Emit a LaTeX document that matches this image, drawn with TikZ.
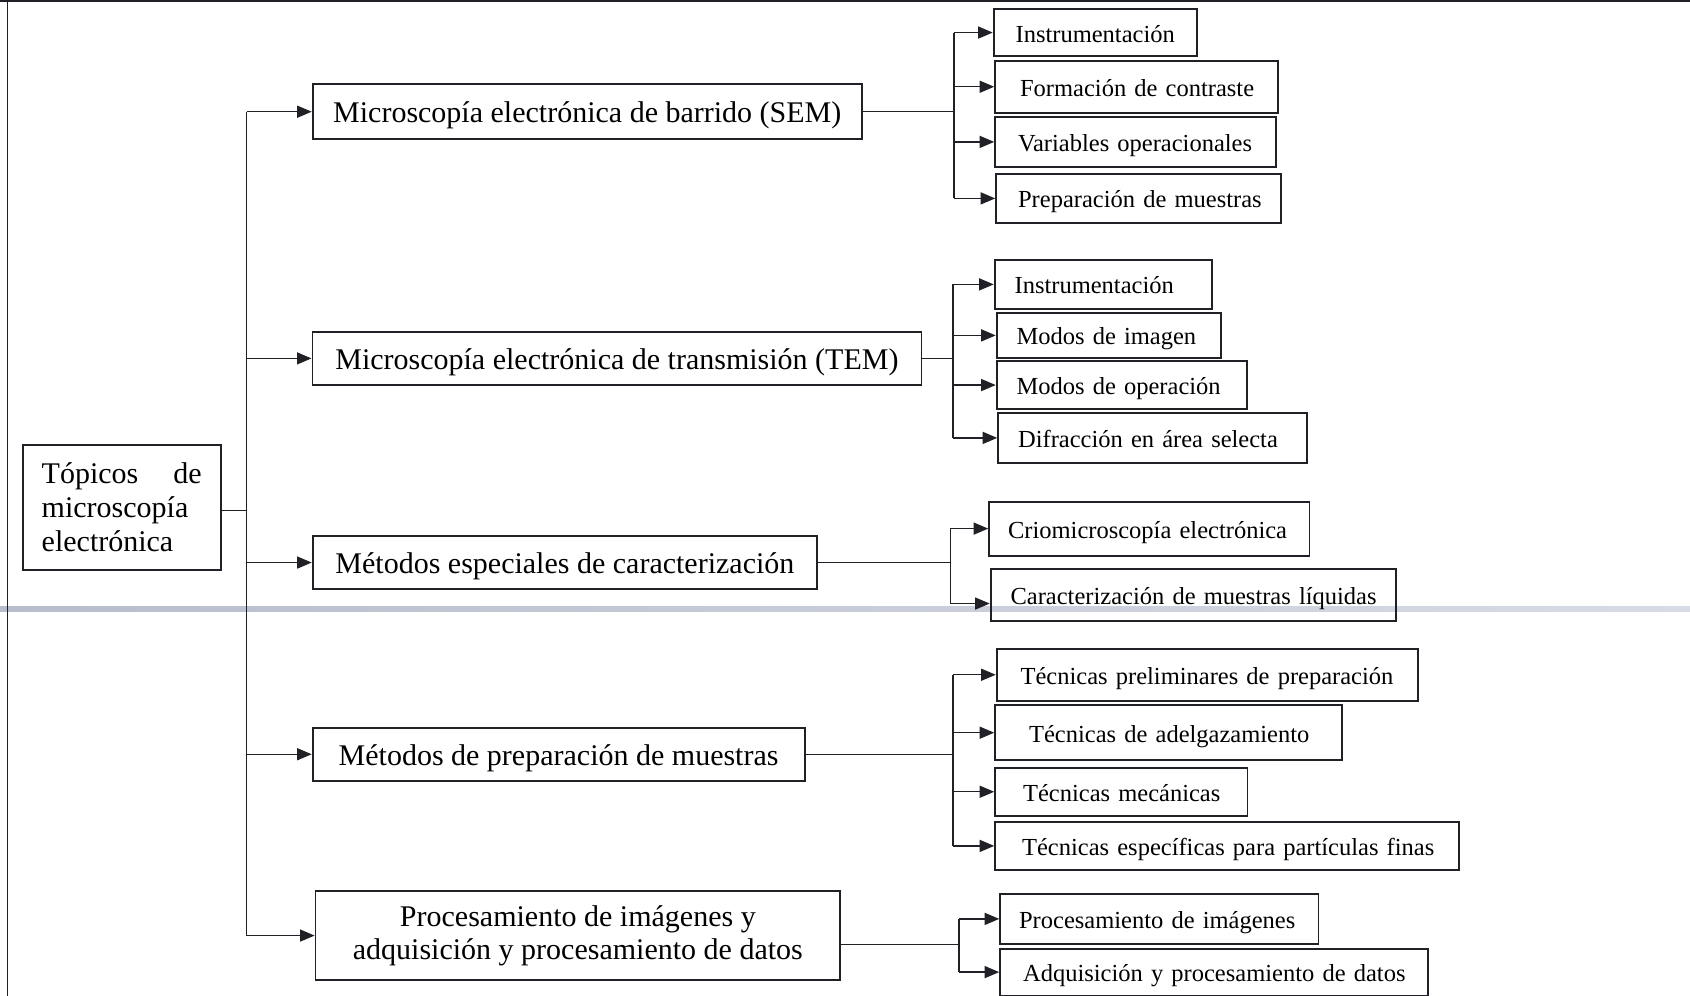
\documentclass[tikz,border=0pt]{standalone}
\usepackage{fontspec}
\setmainfont{Liberation Serif}
\usetikzlibrary{arrows.meta}
\definecolor{ink}{RGB}{32,32,38}
\definecolor{bandL}{RGB}{184,189,204}
\definecolor{bandR}{RGB}{214,219,229}
\begin{document}
\begin{tikzpicture}[x=1pt,y=-1pt,
  every node/.style={inner sep=0pt},
  bx/.style={draw=ink, line width=1.8pt, anchor=north west},
  mainbox/.style 2 args={bx, font=\fontsize{30}{34}\selectfont, align=center,
     minimum width=#1pt, minimum height=#2pt, text height=22pt, text depth=0pt},
  subbox/.style n args={3}{bx, font=\fontsize{24.5}{28}\selectfont, align=left,
     text width=#1pt, inner xsep=#2pt, minimum height=#3pt, text height=19pt, text depth=0pt},
  conn/.style={draw=ink, line width=1.3pt},
  conarr/.style={conn, -{Triangle[length=14.5pt,width=12pt]}}
]
\useasboundingbox (0,0) rectangle (1690,996);
% scan band and frame
\shade[left color=bandL, right color=bandR] (0,606) rectangle (1690,611);
\draw[ink, line width=1.6pt] (0,1.2) -- (1690,1.2);
\draw[ink, line width=1.4pt] (7.5,0) -- (7.5,996);

% root
\node[bx, font=\fontsize{30}{34}\selectfont, align=left, text width=160pt, inner xsep=19pt,
      minimum height=125pt] (root) at (21.8,444) {T\'opicos\hfill de\\microscop\'ia\\electr\'onica};

% main level
\node[mainbox={549.3}{55}] (sem) at (311.7,83.3) {Microscop\'ia electr\'onica de barrido (SEM)};
\node[mainbox={609}{53}] (tem) at (311.5,331) {Microscop\'ia electr\'onica de transmisi\'on (TEM)};
\node[mainbox={504.6}{53.3}] (esp) at (311.7,535) {M\'etodos especiales de caracterizaci\'on};
\node[mainbox={492}{53.3}] (prep) at (311.7,726.7) {M\'etodos de preparaci\'on de muestras};
\node[bx, font=\fontsize{30}{33.5}\selectfont, align=center, minimum width=524.7pt, minimum height=89.3pt]
   (proc) at (314.6,890) {Procesamiento de im\'agenes y\\adquisici\'on y procesamiento de datos};

% SEM children
\node[subbox={159.5}{22}{46.7}] (s1) at (992.7,8.3) {\mbox{Instrumentaci\'on}};
\node[subbox={233.1}{25}{51.7}] (s2) at (994.2,60) {\mbox{Formaci\'on de contraste}};
\node[subbox={234.6}{23}{50}] (s3) at (994.2,116) {\mbox{Variables operacionales}};
\node[subbox={241.2}{22}{48.4}] (s4) at (995.2,173.3) {\mbox{Preparaci\'on de muestras}};
% TEM children
\node[subbox={177.1}{20}{48.4}] (t1) at (993.7,259.3) {\mbox{Instrumentaci\'on}};
\node[subbox={184.2}{20}{45.6}] (t2) at (995.7,311.7) {\mbox{Modos de imagen}};
\node[subbox={210.4}{20}{48.3}] (t3) at (995.7,360) {\mbox{Modos de operaci\'on}};
\node[subbox={268.8}{20}{49.4}] (t4) at (997.2,412.3) {\mbox{Difracci\'on en \'area selecta}};
% especiales children
\node[subbox={282.4}{19}{54}] (e1) at (988.2,500.7) {\mbox{Criomicroscop\'ia electr\'onica}};
\node[subbox={365.5}{20}{51.7}] (e2) at (989.7,568.3) {\mbox{Caracterizaci\'on de muestras l\'iquidas}};
% preparacion children
\node[subbox={373.2}{24}{52.3}] (p1) at (995.7,647.7) {\mbox{T\'ecnicas preliminares de preparaci\'on}};
\node[subbox={278.6}{34}{55}] (p2) at (994.2,704.3) {\mbox{T\'ecnicas de adelgazamiento}};
\node[subbox={196.4}{28}{48.3}] (p3) at (994.2,766.7) {\mbox{T\'ecnicas mec\'anicas}};
\node[subbox={410}{27}{48.6}] (p4) at (994.2,820.7) {\mbox{T\'ecnicas espec\'ificas para part\'iculas finas}};
% procesamiento children
\node[subbox={280.4}{19}{49.4}] (r1) at (999.2,893.3) {\mbox{Procesamiento de im\'agenes}};
\node[subbox={382}{23}{47}] (r2) at (999.2,947.7) {\mbox{Adquisici\'on y procesamiento de datos}};

% trunk
\coordinate (trunk) at (246.8,510);
\coordinate (rootout) at ([yshift=-3pt]root.east);
\draw[conn] (rootout) -- (rootout -| trunk);
\draw[conn] (trunk |- sem.west) -- (trunk |- proc.west);
\foreach \m in {sem,tem,esp,prep,proc} \draw[conarr] (trunk |- \m.west) -- (\m.west);

% SEM branch
\coordinate (js) at (953.9,0);
\draw[conn] (sem.east) -- (sem.east -| js);
\draw[conn] (js |- s1.west) -- (js |- s4.west);
\foreach \c in {s1,s2,s3,s4} \draw[conarr] (js |- \c.west) -- (\c.west);

% TEM branch
\coordinate (jt) at (952.9,0);
\draw[conn] (tem.east) -- (tem.east -| jt);
\draw[conn] (jt |- t1.west) -- (jt |- t4.west);
\foreach \c in {t1,t2,t3,t4} \draw[conarr] (jt |- \c.west) -- (\c.west);

% especiales branch
\coordinate (je) at (950.4,0);
\coordinate (e2in) at ([yshift=-8.5pt]e2.west);
\draw[conn] (esp.east) -- (esp.east -| je);
\draw[conn] (je |- e1.west) -- (je |- e2in);
\draw[conarr] (je |- e1.west) -- (e1.west);
\draw[conarr] (je |- e2in) -- (e2in);

% preparacion branch
\coordinate (jp) at (952.9,0);
\draw[conn] (prep.east) -- (prep.east -| jp);
\draw[conn] (jp |- p1.west) -- (jp |- p4.west);
\foreach \c in {p1,p2,p3,p4} \draw[conarr] (jp |- \c.west) -- (\c.west);

% procesamiento branch
\coordinate (jr) at (958.9,0);
\coordinate (procout) at ([yshift=-8.6pt]proc.east);
\draw[conn] (procout) -- (procout -| jr);
\draw[conn] (jr |- r1.west) -- (jr |- r2.west);
\foreach \c in {r1,r2} \draw[conarr] (jr |- \c.west) -- (\c.west);
\end{tikzpicture}
\end{document}
